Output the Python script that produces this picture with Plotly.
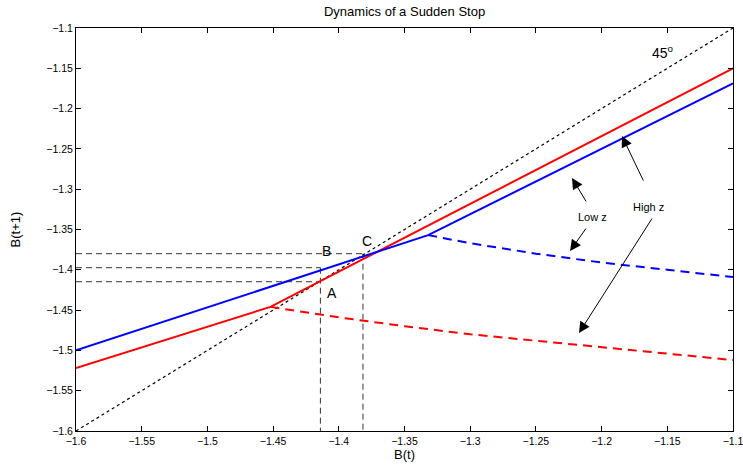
import plotly.graph_objects as go

# ---- data ----
diag_x = [-1.6, -1.1]
diag_y = [-1.6, -1.1]

high_z_solid_x = [-1.6, -1.452, -1.1]
high_z_solid_y = [-1.522, -1.446, -1.150]
high_z_dash_x = [-1.452, -1.40, -1.35, -1.30, -1.25, -1.20, -1.15, -1.10]
high_z_dash_y = [-1.446, -1.459, -1.470, -1.480, -1.488, -1.496, -1.504, -1.512]

low_z_solid_x = [-1.6, -1.332, -1.1]
low_z_solid_y = [-1.500, -1.357, -1.1686]
low_z_dash_x = [-1.332, -1.30, -1.25, -1.20, -1.15, -1.10]
low_z_dash_y = [-1.357, -1.367, -1.380, -1.391, -1.400, -1.409]

point_labels = ["A", "B", "C"]
point_x = [-1.414, -1.414, -1.3816]
point_y = [-1.4148, -1.3974, -1.380]

tick_vals = [-1.6, -1.55, -1.5, -1.45, -1.4, -1.35, -1.3, -1.25, -1.2, -1.15, -1.1]
tick_text = ["\u22121.6", "\u22121.55", "\u22121.5", "\u22121.45", "\u22121.4", "\u22121.35",
             "\u22121.3", "\u22121.25", "\u22121.2", "\u22121.15", "\u22121.1"]

XMIN, XMAX = -1.6, -1.1
YMIN, YMAX = -1.6, -1.1

fig = go.Figure()

# 45 degree line
fig.add_trace(go.Scatter(x=diag_x, y=diag_y, mode="lines",
                         line=dict(color="black", width=1.2, dash="dot"), showlegend=False))

# reference dashed lines (horizontal to each point, vertical from B and C)
for px, py in zip(point_x, point_y):
    fig.add_trace(go.Scatter(x=[XMIN, px], y=[py, py], mode="lines",
                             line=dict(color="black", width=0.8, dash="6px,4px"), showlegend=False))
for i in (1, 2):
    fig.add_trace(go.Scatter(x=[point_x[i], point_x[i]], y=[point_y[i], YMIN], mode="lines",
                             line=dict(color="black", width=0.8, dash="6px,4px"), showlegend=False))

# policy functions
fig.add_trace(go.Scatter(x=high_z_dash_x, y=high_z_dash_y, mode="lines",
                         line=dict(color="#ff0000", width=2, dash="9px,6px"), showlegend=False))
fig.add_trace(go.Scatter(x=low_z_dash_x, y=low_z_dash_y, mode="lines",
                         line=dict(color="#0000ff", width=2, dash="9px,6px"), showlegend=False))
fig.add_trace(go.Scatter(x=high_z_solid_x, y=high_z_solid_y, mode="lines",
                         line=dict(color="#ff0000", width=2), showlegend=False))
fig.add_trace(go.Scatter(x=low_z_solid_x, y=low_z_solid_y, mode="lines",
                         line=dict(color="#0000ff", width=2), showlegend=False))

font_family = "Liberation Sans, Arial, sans-serif"
annotations = []
# point labels
label_pos = {"A": (-1.4054, -1.4292), "B": (-1.4097, -1.3767), "C": (-1.3783, -1.3639)}
for lab in point_labels:
    lx, ly = label_pos[lab]
    annotations.append(dict(x=lx, y=ly, xref="x", yref="y", text=lab, showarrow=False,
                            font=dict(size=14, color="black", family=font_family)))
annotations.append(dict(x=-1.1533, y=-1.1298, xref="x", yref="y",
                        text="45<sup>o</sup>", showarrow=False,
                        font=dict(size=14, color="black", family=font_family)))
annotations.append(dict(x=-1.2066, y=-1.3350, xref="x", yref="y", text="Low z", showarrow=False,
                        font=dict(size=11, color="black", family=font_family)))
annotations.append(dict(x=-1.1645, y=-1.3220, xref="x", yref="y", text="High z", showarrow=False,
                        font=dict(size=11, color="black", family=font_family)))
# arrows: (head_x, head_y, tail_x, tail_y)
arrows = [(-1.2225, -1.2861, -1.2111, -1.3171),
          (-1.2240, -1.3767, -1.2111, -1.3469),
          (-1.1845, -1.2340, -1.1677, -1.2911),
          (-1.2172, -1.4784, -1.1609, -1.3345)]
for hx, hy, tx, ty in arrows:
    annotations.append(dict(x=hx, y=hy, ax=tx, ay=ty, xref="x", yref="y", axref="x", ayref="y",
                            text="", showarrow=True, arrowhead=2, arrowsize=2.2, arrowwidth=1,
                            arrowcolor="black"))

axis_common = dict(showgrid=False, zeroline=False, showline=True, linecolor="black", linewidth=1,
                   mirror="allticks", ticks="inside", ticklen=5, tickwidth=1, tickcolor="black",
                   tickvals=tick_vals, ticktext=tick_text, ticklabeloverflow="allow",
                   tickfont=dict(size=10.5, color="black", family=font_family), automargin=False)

fig.update_layout(
    width=743, height=465,
    paper_bgcolor="white", plot_bgcolor="white",
    margin=dict(l=76, r=10, t=28, b=34),
    title=dict(text="Dynamics of a Sudden Stop", x=0.5445, xanchor="center", y=0.975, yanchor="middle",
               font=dict(size=13, color="black", family=font_family)),
    xaxis=dict(range=[XMIN, XMAX], title=dict(text="B(t)", standoff=3,
               font=dict(size=13, color="black", family=font_family)), **axis_common),
    yaxis=dict(range=[YMIN, YMAX], title=dict(text="B(t+1)", standoff=22,
               font=dict(size=13, color="black", family=font_family)), **axis_common),
    annotations=annotations,
)

fig.write_html("out.html")
